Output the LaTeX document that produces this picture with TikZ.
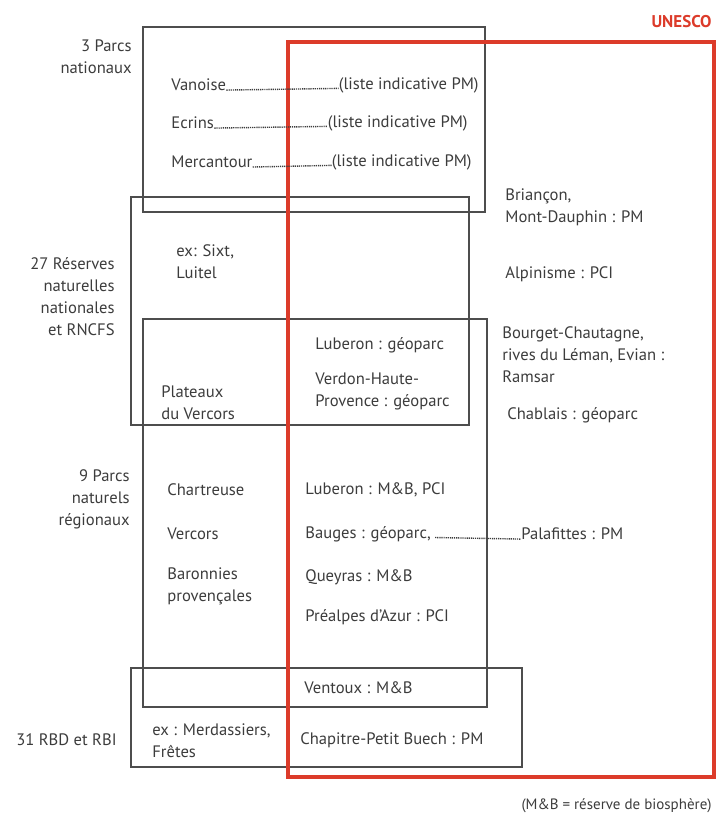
\documentclass[tikz,border=0pt]{standalone}
\usepackage{fontspec}
\setmainfont{PT Sans}
\definecolor{unescored}{HTML}{DC3B2A}
\definecolor{boxgray}{HTML}{4D4D4D}
\definecolor{txtgray}{HTML}{3C3C3C}
\tikzset{
  zone/.style={draw=boxgray,line width=0.8pt},
  unescobox/.style={draw=unescored,line width=2pt},
  lbl/.style={anchor=west,inner sep=0pt,text=txtgray,align=left,
    font=\fontsize{8.3}{11}\selectfont},
  cat/.style={lbl,anchor=east,align=right},
  leader/.style={txtgray,line width=0.7pt,dash pattern=on 0.6pt off 0.45pt}
}
\begin{document}
\begin{tikzpicture}[x=0.5pt,y=-0.5pt]
\useasboundingbox (0,0) rectangle (723,814);
% the four kinds of protected areas
\draw[zone] (143,27) rectangle (485,212);
\draw[zone] (131,197) rectangle (469,425);
\draw[zone] (143,319) rectangle (487,707);
\draw[zone] (131,668) rectangle (522,767);
% unesco frame
\draw[unescobox] (288,42) rectangle (714,777);
\node[lbl,anchor=east,text=unescored,font=\fontsize{8.5}{10}\selectfont\bfseries] (unesco) at (712,22) {UNESCO};

% categories on the left
\node[cat] (pnlbl) at (132,57) {3 Parcs\\nationaux};
\node[cat] (rnlbl) at (115,297) {27 Réserves\\naturelles\\nationales\\et RNCFS};
\node[cat] (pnrlbl) at (130,499) {9 Parcs\\naturels\\régionaux};
\node[cat] (rbdlbl) at (117,740) {31 RBD et RBI};

% parcs nationaux
\node[lbl] (van) at (171,85) {Vanoise};
\node[lbl,anchor=east] (vanpm) at (479,85) {(liste indicative PM)};
\node[lbl] (ecr) at (171,123) {Ecrins};
\node[lbl,anchor=east] (ecrpm) at (468,123) {(liste indicative PM)};
\node[lbl] (mer) at (171,162) {Mercantour};
\node[lbl,anchor=east] (merpm) at (472,162) {(liste indicative PM)};
\foreach \a/\b in {van/vanpm,ecr/ecrpm,mer/merpm}
\draw[leader] ([yshift=0.35pt]\a.base east) -- ([yshift=0.35pt]\b.base west);

% reserves naturelles
\node[lbl] (sixt) at (176,262) {ex: Sixt,\\Luitel};
\node[lbl] (lubgeo) at (315,345) {Luberon : géoparc};
\node[lbl] (verdon) at (315,391) {Verdon-Haute-\\Provence : géoparc};
\node[lbl] (plat) at (161,403) {Plateaux\\du Vercors};

% parcs naturels regionaux
\node[lbl] (chart) at (167,490) {Chartreuse};
\node[lbl] (verc) at (167,534) {Vercors};
\node[lbl] (baron) at (167,586) {Baronnies\\provençales};
\node[lbl] (lubmb) at (305,490) {Luberon : M\&B, PCI};
\node[lbl] (bauges) at (305,534) {Bauges : géoparc,};
\node[lbl] (pala) at (521,534) {Palafittes : PM};
\draw[leader] ([yshift=0.35pt]bauges.base east) ++(4,0) -- ([yshift=0.35pt]pala.base west);
\node[lbl] (queyras) at (305,577) {Queyras : M\&B};
\node[lbl] (prealp) at (305,617) {Préalpes d'Azur : PCI};

% RBD et RBI
\node[lbl] (vent) at (304,688) {Ventoux : M\&B};
\node[lbl] (merd) at (152,741) {ex : Merdassiers,\\Frêtes};
\node[lbl] (chap) at (300,740) {Chapitre-Petit Buech : PM};

% unesco only
\node[lbl] (brian) at (505,207) {Briançon,\\Mont-Dauphin : PM};
\node[lbl] (alpi) at (505,274) {Alpinisme : PCI};
\node[lbl] (bourg) at (502,355) {Bourget-Chautagne,\\rives du Léman, Evian :\\Ramsar};
\node[lbl] (chabl) at (507,415) {Chablais : géoparc};

\node[lbl,anchor=east,font=\fontsize{7.5}{8}\selectfont] (note) at (712,806) {(M\&B = réserve de biosphère)};
\end{tikzpicture}
\end{document}
